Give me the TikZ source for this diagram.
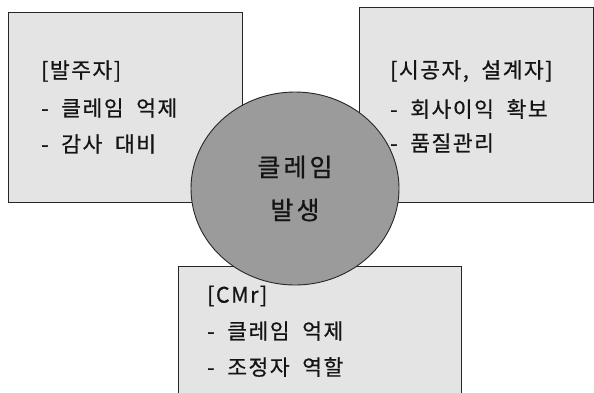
\documentclass[tikz,border=0pt]{standalone}
\usepackage{fontspec}
\newfontfamily\kr[WordSpace=2.0,LetterSpace=7,FakeBold=0.6]{Noto Sans CJK KR}
\newfontfamily\krc[LetterSpace=12,FakeBold=0.6]{Noto Sans CJK KR}
\definecolor{boxfill}{HTML}{E4E4E4}
\definecolor{circfill}{HTML}{9B9B9B}
\definecolor{edge}{HTML}{262626}
\tikzset{
  infobox/.style={draw=edge, line width=0.9pt, fill=boxfill},
  linetext/.style={anchor=west, inner sep=0pt, font=\kr\fontsize{21.5}{24}\selectfont, text=black!92},
  centertext/.style={anchor=center, inner sep=0pt, font=\krc\fontsize{25}{28}\selectfont, text=black!92}
}
\begin{document}
\begin{tikzpicture}[x=1pt,y=-1pt]
\useasboundingbox (0,0) rectangle (594,392);
% boxes
\draw[infobox] (8,12) rectangle (242,202);
\draw[infobox] (359,7) rectangle (593,202);
\draw[infobox] (178,266) rectangle (461,394);
% circle
\draw[infobox, fill=circfill] (295,188.5) ellipse [x radius=104, y radius=96.5];
\coordinate (c) at (295,188.5);
% left texts
\node[linetext] (l1) at (41,71) {[발주자]};
\node[linetext] (l2) at (41,108) {- 클레임 억제};
\node[linetext] (l3) at (41,144) {- 감사 대비};
% right texts
\node[linetext] (r1) at (390,71) {[시공자, 설계자]};
\node[linetext] (r2) at (390,109) {- 회사이익 확보};
\node[linetext] (r3) at (390,143) {- 품질관리};
% bottom texts
\node[linetext] (b1) at (207,296) {[CMr]};
\node[linetext] (b2) at (207,331) {- 클레임 억제};
\node[linetext] (b3) at (207,367) {- 조정자 역할};
% circle texts
\node[centertext] (t1) at (295,167) {클레임};
\node[centertext] (t2) at (295,210) {발생};
\end{tikzpicture}
\end{document}
